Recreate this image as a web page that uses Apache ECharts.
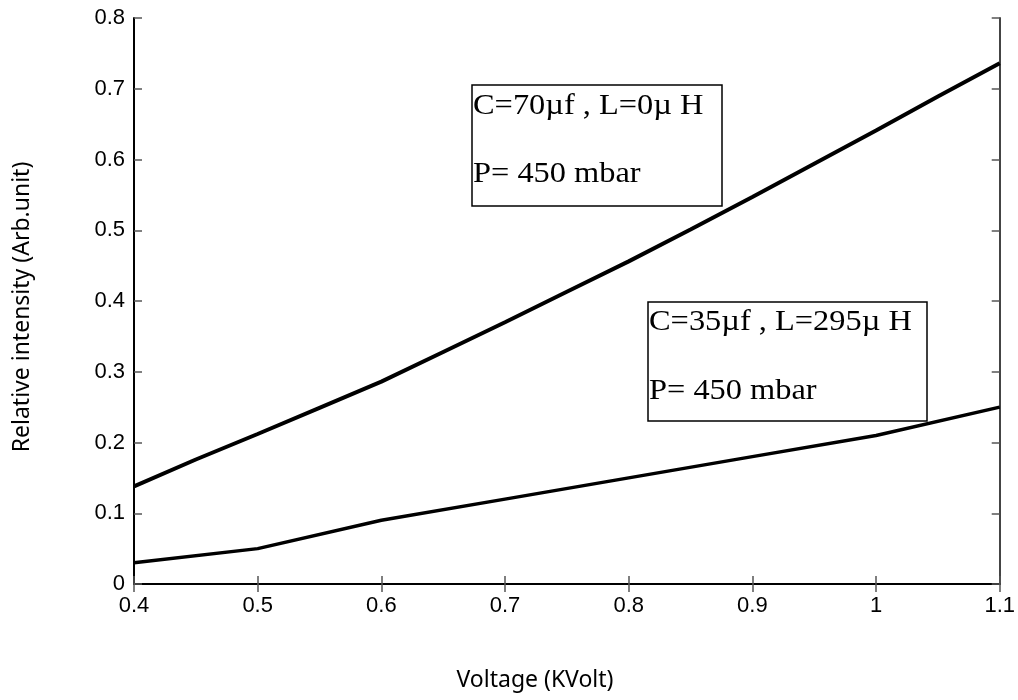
<!DOCTYPE html>
<html><head><meta charset="utf-8">
<script src="https://cdn.jsdelivr.net/npm/echarts@6/dist/echarts.min.js"></script>
<style>html,body{margin:0;padding:0;background:#fff}#c{width:1018px;height:700px}</style>
</head><body><div id="c"></div>
<script>
// Data
const voltageA = [0.4, 0.45, 0.5, 0.55, 0.6, 0.65, 0.7, 0.75, 0.8, 0.85, 0.9, 0.95, 1.0, 1.05, 1.1];
const intensityA = [0.138, 0.176, 0.212, 0.249, 0.286, 0.328, 0.370, 0.413, 0.456, 0.501, 0.547, 0.594, 0.641, 0.689, 0.736];
const voltageB = [0.4, 0.5, 0.6, 0.7, 0.8, 0.9, 1.0, 1.1];
const intensityB = [0.03, 0.05, 0.09, 0.12, 0.15, 0.18, 0.21, 0.25];
const labelA = ['C=70µf , L=0µ H', 'P= 450 mbar'];
const labelB = ['C=35µf , L=295µ H', 'P= 450 mbar'];
const xTitle = 'Voltage (KVolt)';
const yTitle = 'Relative intensity (Arb.unit)';

const chart = echarts.init(document.getElementById('c'), null, {renderer: 'canvas'});
const fmt = v => String(+v.toFixed(2));
const tickStyle = {show: true, inside: true, length: 8, lineStyle: {color: '#555', width: 1.5}};
const lineStyle = {show: true, lineStyle: {color: '#000', width: 2}};
const labelFont = {color: '#000', fontSize: 22, fontFamily: 'Liberation Sans, Arial'};

function box(left, top, w, h, lines, y1, y2) {
  return {
    type: 'group',
    children: [
      {type: 'rect', shape: {x: left, y: top, width: w, height: h}, style: {fill: '#fff', stroke: '#000', lineWidth: 1.5}, z: 100},
      {type: 'text', x: left + 1, y: y1, scaleX: 1.08, z: 101, style: {text: lines[0], x: 0, y: 0, fill: '#000', fontSize: 30, fontFamily: 'Liberation Serif, Times New Roman', verticalAlign: 'middle'}},
      {type: 'text', x: left + 1, y: y2, scaleX: 1.08, z: 101, style: {text: lines[1], x: 0, y: 0, fill: '#000', fontSize: 30, fontFamily: 'Liberation Serif, Times New Roman', verticalAlign: 'middle'}}
    ]
  };
}

chart.setOption({
  animation: false,
  backgroundColor: '#fff',
  grid: {left: 134, top: 18, right: 16, bottom: 116, containLabel: false},
  xAxis: [
    {type: 'value', min: 0.4, max: 1.1, interval: 0.1, position: 'bottom',
     axisLine: lineStyle, axisTick: tickStyle, splitLine: {show: false},
     axisLabel: Object.assign({margin: 11, formatter: fmt}, labelFont)},
    {type: 'value', min: 0.4, max: 1.1, interval: 0.1, position: 'top',
     axisLine: lineStyle, axisTick: tickStyle, splitLine: {show: false}, axisLabel: {show: false}}
  ],
  yAxis: [
    {type: 'value', min: 0, max: 0.8, interval: 0.1, position: 'left',
     axisLine: lineStyle, axisTick: tickStyle, splitLine: {show: false},
     axisLabel: Object.assign({margin: 9, formatter: fmt}, labelFont)},
    {type: 'value', min: 0, max: 0.8, interval: 0.1, position: 'right',
     axisLine: {show: true, lineStyle: {color: '#444', width: 2}}, axisTick: tickStyle, splitLine: {show: false}, axisLabel: {show: false}}
  ],
  series: [
    {type: 'line', xAxisIndex: 0, yAxisIndex: 0, showSymbol: false, smooth: false,
     data: voltageA.map((v, i) => [v, intensityA[i]]),
     lineStyle: {color: '#000', width: 4}},
    {type: 'line', xAxisIndex: 0, yAxisIndex: 0, showSymbol: false, smooth: false,
     data: voltageB.map((v, i) => [v, intensityB[i]]),
     lineStyle: {color: '#000', width: 3.5}}
  ],
  graphic: [
    box(472, 85, 250, 121, labelA, 106, 174),
    box(648, 302, 279, 119, labelB, 322, 391),
    {type: 'text', x: 535, y: 680, style: {text: xTitle, fill: '#000', fontSize: 23, fontFamily: 'Noto Sans, Open Sans', align: 'center', verticalAlign: 'middle'}},
    {type: 'text', x: 22, y: 307, rotation: Math.PI / 2, style: {text: yTitle, fill: '#000', fontSize: 23, fontFamily: 'Noto Sans, Open Sans', align: 'center', verticalAlign: 'middle'}}
  ]
});
</script>
</body></html>
